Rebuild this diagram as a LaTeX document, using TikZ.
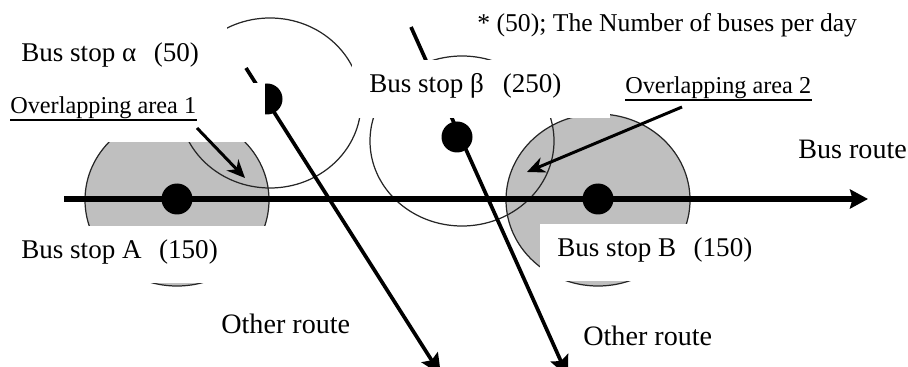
\documentclass[tikz,border=0pt]{standalone}
\usepackage{fontspec}
\setmainfont{Liberation Serif}
\usetikzlibrary{arrows.meta, positioning}

\begin{document}
\begin{tikzpicture}[x=0.02cm, y=-0.02cm, >=Stealth,
    every node/.style={font=\fontsize{15.4}{18}\selectfont, inner sep=0pt, anchor=base west},
    notetext/.style={font=\fontsize{14.6}{18}\selectfont},
    areatext/.style={font=\fontsize{13.8}{16}\selectfont},
    widetext/.style={font=\fontsize{16}{18}\selectfont},
    zone/.style={draw=black!85, line width=0.7pt},
    mask/.style={fill=white},
    stopdot/.style={circle, fill=black, minimum size=0.62cm, anchor=center},
    routeline/.style={-{Stealth[length=0.36cm, width=0.38cm, inset=0.05cm]}, line width=3.9pt},
    otherline/.style={-{Stealth[length=0.42cm, width=0.38cm, inset=0.07cm]}, line width=2.1pt},
    pointer/.style={-{Stealth[length=0.36cm, width=0.32cm]}, line width=1.7pt}]
  \useasboundingbox (0,0) rectangle (908,367);
  \draw[zone, fill=black!25] (177,200) ellipse [x radius=92, y radius=86];
  \draw[zone, fill=black!25] (598,200) ellipse [x radius=92, y radius=86];
  \draw[zone] (270,103) ellipse [x radius=91, y radius=85];
  \draw[zone] (462,141) ellipse [x radius=92, y radius=85];

  \coordinate (routeL) at (64,199);
  \coordinate (routeR) at (868,199);
  \coordinate (otherAs) at (246,68);
  \coordinate (otherAe) at (441,375);
  \coordinate (otherBs) at (411,27);
  \coordinate (otherBe) at (568,377);
  \coordinate (areaAs) at (197,128);
  \coordinate (areaAe) at (245,178);
  \coordinate (areaBs) at (682,107);
  \coordinate (areaBe) at (527,172);

  \draw[routeline] (routeL) -- (routeR);
  \draw[otherline] (otherAs) -- (otherAe);
  \draw[otherline] (otherBs) -- (otherBe);
  \node[stopdot] (dotA) at (177,199) {};
  \node[stopdot] (dotB) at (598,199) {};
  \node[stopdot] (dotalpha) at (267,99) {};
  \node[stopdot] (dotbeta) at (457,137) {};

  \fill[mask] (0,0) rectangle (227,142);
  \fill[mask] (227,83) rectangle (265,142);
  \fill[mask] (352,60) rectangle (610,118);
  \fill[mask] (60,226) rectangle (275,283);
  \fill[mask] (540,224) rectangle (800,281);

  \draw[pointer] (areaAs) -- (areaAe);
  \draw[pointer] (areaBs) -- (areaBe);

  \node[notetext] (note) at (477,32) {* (50); The Number of buses per day};
  \node (alpha) at (21,62) {Bus stop α\hspace{0.65em}(50)};
  \node (beta) at (369,93) {Bus stop β\hspace{0.7em}(250)};
  \node[areatext] (areaA) at (10,114) {Overlapping area 1};
  \node[areatext] (areaB) at (625,94) {Overlapping area 2};
  \draw[line width=1.1pt] (areaA.south west) -- (areaA.south east);
  \draw[line width=1.1pt] (areaB.south west) -- (areaB.south east);
  \node[widetext] (route) at (798,159) {Bus route};
  \node (stopA) at (21,259) {Bus stop A\hspace{0.65em}(150)};
  \node (stopB) at (557,257) {Bus stop B\hspace{0.65em}(150)};
  \node[widetext] (otherA) at (221,334) {Other route};
  \node[widetext] (otherB) at (583,345) {Other route};
\end{tikzpicture}
\end{document}
